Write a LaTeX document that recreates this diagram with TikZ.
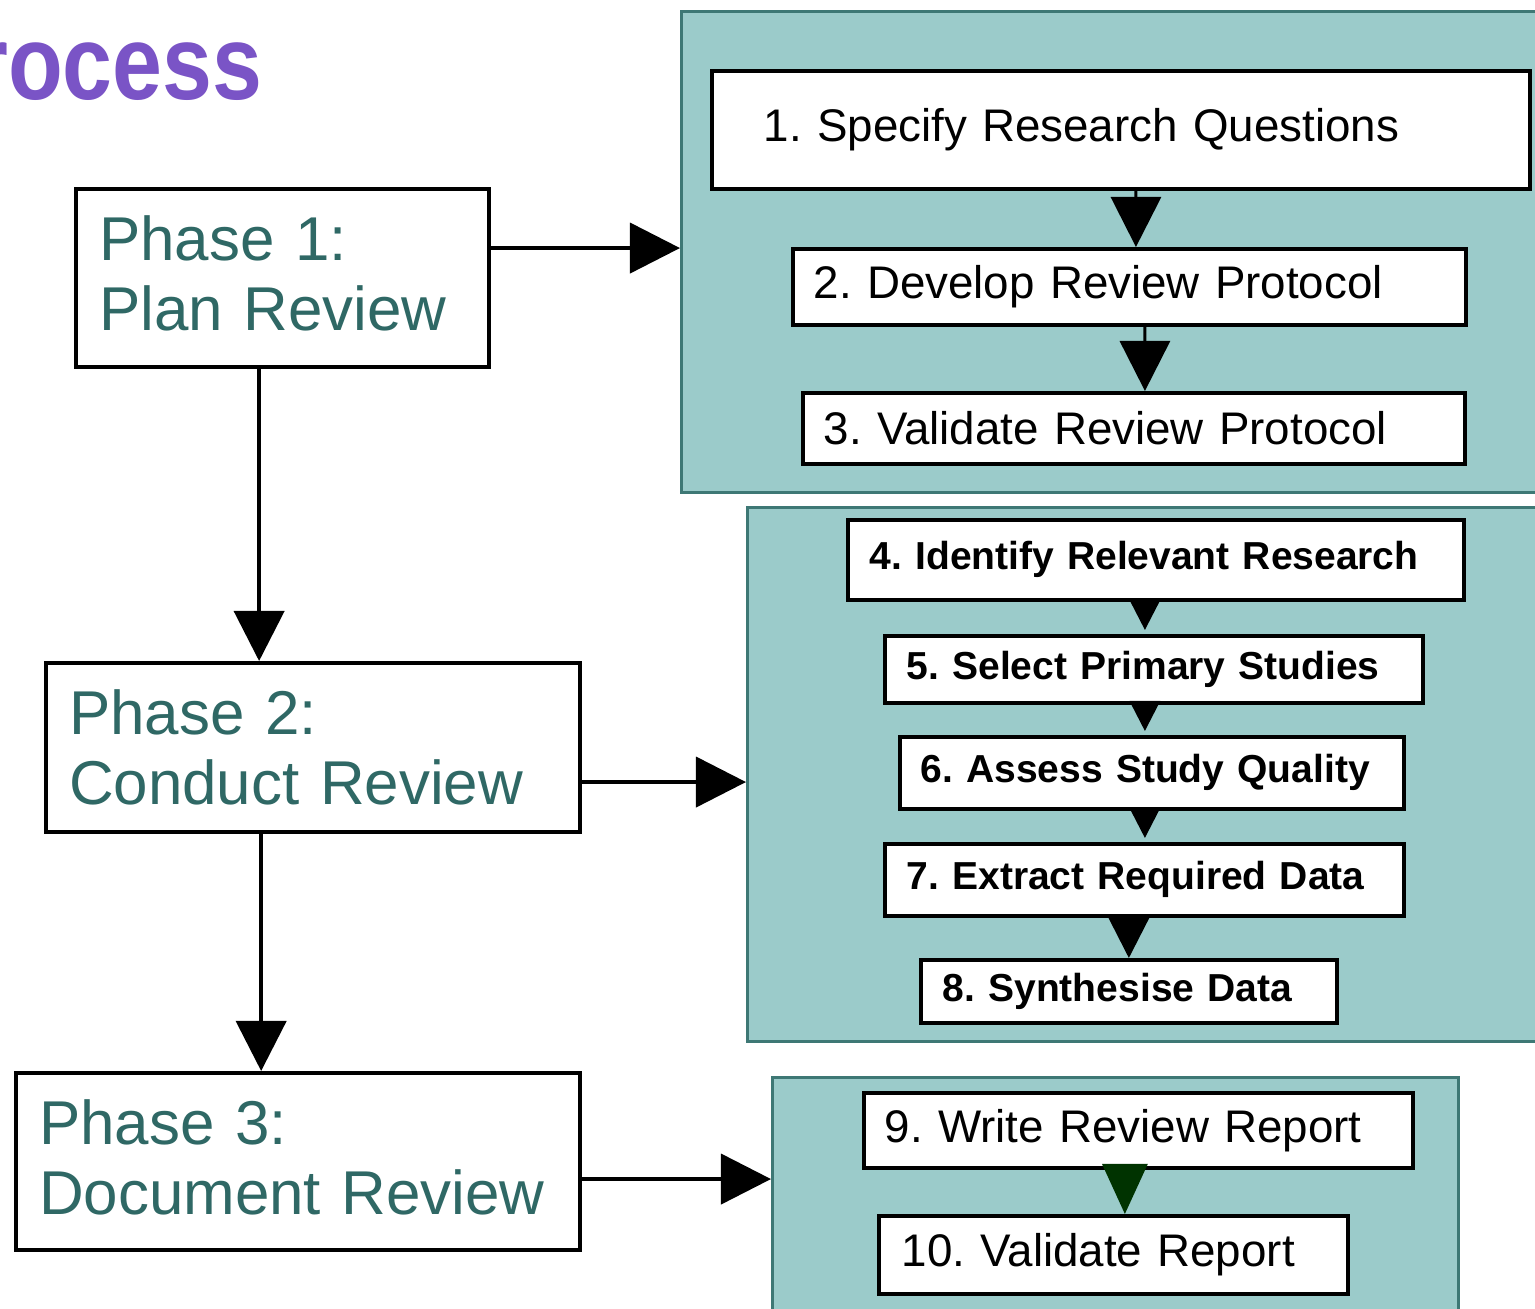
\documentclass[tikz,border=0pt]{standalone}
\usepackage{fontspec}
\setmainfont{Liberation Sans}
\newfontfamily\titlefont[FakeStretch=0.85]{Liberation Sans}
\usepackage{xcolor}
\usepackage{tikz}
\usetikzlibrary{arrows.meta}
\usetikzlibrary{calc}
\definecolor{boxteal}{HTML}{9BCBCA}
\definecolor{edgeteal}{HTML}{3E7875}
\definecolor{phasetext}{HTML}{2F6865}
\definecolor{titlepurple}{HTML}{7A54C6}
\definecolor{darkgreen}{HTML}{003300}
\frenchspacing

\begin{document}
\begin{tikzpicture}[x=0.01cm, y=-0.01cm]

        \tikzstyle{groupbox} = [rectangle, draw=edgeteal, fill=boxteal, line width=0.03cm, anchor=north west, inner sep=0pt]
        \tikzstyle{phasebox} = [rectangle, draw, fill=white, line width=0.04cm, anchor=north west, inner xsep=0.23cm, inner ysep=0pt, align=left, text=phasetext, font=\fontsize{17.6pt}{19.9pt}\selectfont]
        \tikzstyle{stepbox}  = [rectangle, draw, fill=white, line width=0.035cm, anchor=north west, inner ysep=0pt, align=left]
        \tikzstyle{regtext}  = [font=\fontsize{13pt}{15pt}\selectfont]
        \tikzstyle{boldtext} = [font=\fontsize{11.1pt}{13pt}\selectfont\bfseries]
        \tikzstyle{flow}     = [line width=0.04cm, -{Triangle[length=0.5cm, width=0.5cm]}]
        \tikzstyle{bigstep}  = [line width=0.03cm, -{Triangle[length=0.5cm, width=0.5cm]}]
        \tikzstyle{smallstep} = [line width=0.03cm, shorten >=0.04cm, -{Triangle[length=0.3cm, width=0.3cm]}]

        \useasboundingbox (0,0) rectangle (1535,1309);
        \clip (0,0) rectangle (1535,1309);

        \node [anchor=base east, inner sep=0pt, text=titlepurple, font=\titlefont\fontsize{30pt}{32pt}\selectfont\bfseries] (title) at (263,100) {Process};

        \node [groupbox, minimum width=8.65cm, minimum height=4.81cm] (g1) at (680,10) {};
        \node [groupbox, minimum width=7.99cm, minimum height=5.34cm] (g2) at (746,506) {};
        \node [groupbox, minimum width=6.86cm, minimum height=2.44cm] (g3) at (771,1076) {};

        \node [phasebox, minimum width=4.13cm, minimum height=1.78cm, text width=3.67cm] (p1) at (74,187) {Phase 1:\\Plan Review\vspace{0.1cm}};
        \node [phasebox, minimum width=5.34cm, minimum height=1.69cm, text width=4.88cm] (p2) at (44,661) {Phase 2:\\Conduct Review};
        \node [phasebox, minimum width=5.64cm, minimum height=1.77cm, text width=5.18cm] (p3) at (14,1071) {Phase 3:\\Document Review\vspace{0.08cm}};

        \foreach \n/\x/\y/\w/\h/\p/\txt in {
                1/710/69/8.18/1.18/0.52/1. Specify Research Questions,
                2/791/247/6.73/0.76/0.21/2. Develop Review Protocol,
                3/801/391/6.62/0.71/0.21/3. Validate Review Protocol,
                9/862/1091/5.49/0.75/0.21/9. Write Review Report,
                10/877/1214/4.69/0.78/0.23/10. Validate Report}
        {
                \pgfmathsetmacro\tw{\w-2*\p}
                \node [stepbox, regtext, minimum width=\w cm, minimum height=\h cm, inner xsep=\p cm, text width=\tw cm] (s\n) at (\x,\y) {\txt};
        }

        \foreach \n/\x/\y/\w/\h/\p/\txt in {
                4/846/518/6.16/0.80/0.22/4. Identify Relevant Research,
                5/883/634/5.38/0.67/0.22/5. Select Primary Studies,
                6/898/735/5.04/0.72/0.21/6. Assess Study Quality,
                7/883/842/5.19/0.72/0.22/7. Extract Required Data,
                8/919/958/4.16/0.63/0.22/8. Synthesise Data}
        {
                \pgfmathsetmacro\tw{\w-2*\p}
                \node [stepbox, boldtext, minimum width=\w cm, minimum height=\h cm, inner xsep=\p cm, text width=\tw cm] (s\n) at (\x,\y) {\txt};
        }

        \coordinate (e1) at ($(p1.east)+(0,-30)$);
        \coordinate (e2) at ($(p2.east)+(0,34.5)$);
        \coordinate (e3) at ($(p3.east)+(0,17.5)$);
        \draw [flow] (e1) -- (e1 -| g1.west);
        \draw [flow] (e2) -- (e2 -| g2.west);
        \draw [flow] (e3) -- (e3 -| g3.west);

        \coordinate (d1) at ($(p1.south)+(-23.5,0)$);
        \coordinate (d2) at ($(p2.south)+(-52,0)$);
        \draw [flow] (d1) -- (d1 |- p2.north);
        \draw [flow] (d2) -- (d2 |- p3.north);

        \draw [bigstep] ($(s1.south)+(15,0)$) -- ($(s2.north)+(6.5,0)$);
        \draw [bigstep] ($(s2.south)+(15.5,0)$) -- ($(s3.north)+(11,0)$);

        \foreach \a/\b/\da/\db in {4/5/-11/-9, 5/6/-9/-7, 6/7/-7/0.5}
        {
                \draw [smallstep] ($(s\a.south)+(\da,0)$) -- ($(s\b.north)+(\db,0)$);
        }
        \draw [line width=0.03cm, -{Triangle[length=0.4cm, width=0.4cm]}] ($(s7.south)+(-15.5,0)$) -- ($(s8.north)+(0,0)$);
        \draw [line width=0.03cm, draw=darkgreen, -{Triangle[length=0.5cm, width=0.45cm]}] ($(s9.south)+(-13.5,0)$) -- ($(s10.north)+(11.5,0)$);

\end{tikzpicture}
\end{document}
